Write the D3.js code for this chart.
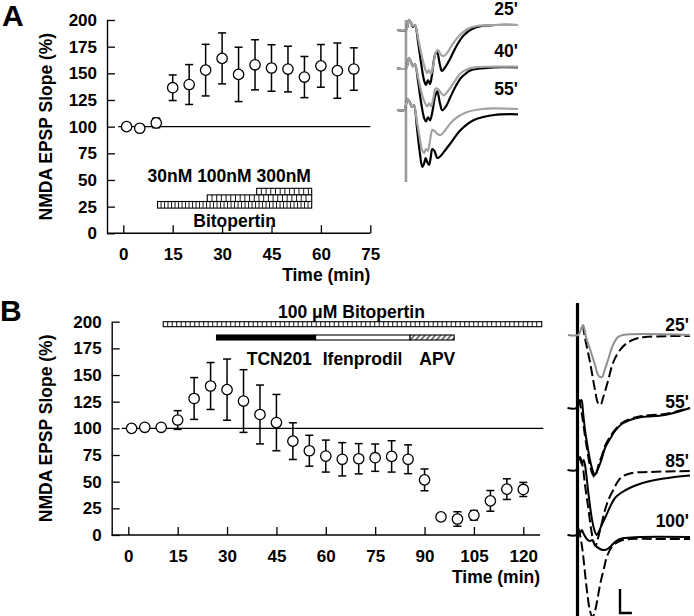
<!DOCTYPE html>
<html><head><meta charset="utf-8">
<script src="https://cdn.jsdelivr.net/npm/d3@7"></script>
<style>
body{margin:0;background:#fff}
text{font-family:"Liberation Sans",Arial,Helvetica,sans-serif;font-weight:bold;fill:#000}
</style></head>
<body><svg id="c" width="694" height="616" xmlns="http://www.w3.org/2000/svg"></svg>
<script>
// ---------------- data ----------------
const yTicks = [0,25,50,75,100,125,150,175,200];
const xTicksA = [0,15,30,45,60,75];
const xTicksB = [0,15,30,45,60,75,90,105,120];

const timeA = [1,5,10,15,20,25,30,35,40,45,50,55,60,65,70];
const meanA = [100,98.5,103.5,136.5,139.5,153,164,149,158,155,154,146.5,157,152.5,154];
const semA  = [0.5,0.5,4.5,12,18.7,24.2,23.9,25.5,23.5,21.8,21.4,19.3,20,25.9,19.9];

const timeB = [1,5,10,15,20,25,30,35,40,45,50,55,60,65,70,75,80,85,90,95,100,105,110,115,120];
const meanB = [100,101,101,107.8,128,139.7,136.3,125.6,113,105.4,88,79,74,71,71.5,72.5,73.7,71,51.7,17,15,18.5,32,43,42.7];
const semB  = [0,0,0,8.8,19.6,22,28.7,29.4,27.6,26.4,17.2,14.5,15,15.6,14.2,12.8,14.7,13.5,10.2,0,6.8,4.5,9.7,9.7,6.6];

const concLabels = ["30nM","100nM","300nM"];
const concStart = [10.4,25.5,40.5];
const concEnd   = [57.2,57.2,57.2];

const bitoB = {label:"100 \u03BCM Bitopertin", start:10.6, end:125.6};
const drugLabels = ["TCN201","Ifenprodil","APV"];
const drugStart = [26.8,56.9,85.6];
const drugEnd   = [56.9,85.6,99];

// example traces: [ms, mV]
const trA25Black = [[0,0],[7.4,0],[9.9,1.0],[11.6,0.7],[13.2,0.3],[14.9,0.5],[17.4,-1.2],[19.8,-3.2],[22.3,-5.0],[24,-5.5],[25.6,-5.0],[27.3,-5.4],[28.9,-4.5],[31.4,-2.5],[33.1,-2.2],[35.5,-3.5],[37.2,-4.1],[40.5,-3.6],[44.6,-2.7],[49.6,-1.5],[55.4,-0.5],[62,0.1],[70.2,0.4],[81,0.5],[100,0.5]];
const trA25Gray  = [[0,0],[7.4,0],[9.9,1.0],[11.6,0.7],[13.2,0.4],[14.9,0.5],[17.4,-0.8],[19.8,-2.2],[22.3,-3.5],[24.8,-4.3],[26.4,-4.0],[28.1,-4.4],[30,-3.5],[32.2,-2.2],[34,-2.0],[36.4,-2.5],[38.8,-2.6],[42,-2.2],[46,-1.4],[52,-0.5],[58,0.1],[66,0.4],[80,0.5],[100,0.5]];
const trA40Black = [[0,0],[7.4,0],[9.9,1.0],[11.6,0.6],[13.2,0.2],[14.9,0.4],[17.4,-1.3],[20,-3.5],[22.5,-5.0],[24,-5.3],[25.6,-4.9],[27.3,-5.2],[29,-4.5],[31.5,-2.8],[33.3,-2.3],[35.5,-3.5],[37.4,-4.2],[40.5,-3.8],[44.4,-2.8],[48.5,-1.8],[52.6,-1.0],[57,-0.5],[61,-0.2],[70,0],[80,0.1],[100,0.1]];
const trA40Gray  = [[0,0],[7.4,0],[9.9,1.0],[11.6,0.6],[13.2,0.2],[14.9,0.4],[17.4,-0.9],[20,-2.3],[22.5,-3.3],[25,-3.8],[26.6,-3.5],[28.2,-3.8],[30,-3.0],[32,-2.0],[34,-2.1],[36.5,-2.5],[38.8,-2.7],[42,-2.3],[46,-1.6],[52.6,-0.5],[58,-0.1],[64,0.1],[80,0.16],[100,0.17]];
const trA55Black = [[0,0],[6,0],[8.5,1.1],[10.5,0.8],[12.4,0.3],[14,0.5],[16.5,-1.8],[18.8,-4.2],[20.9,-5.7],[22.5,-5.3],[23.7,-4.8],[25,-5.2],[26.4,-5.5],[27.8,-4.8],[29.2,-3.9],[31,-4.1],[33.3,-4.8],[36,-4.6],[40,-4.0],[44.4,-3.3],[52.6,-2.0],[63.6,-1.0],[80.2,-0.5],[100,-0.43]];
const trA55Gray  = [[0,0],[6,0],[8.5,1.1],[10.5,0.8],[12.4,0.3],[14,0.5],[16.5,-1.2],[18.8,-2.8],[20.5,-3.9],[22.3,-4.3],[24,-3.9],[25.5,-4.1],[27,-3.3],[29.2,-2.0],[31,-2.1],[33.5,-2.4],[36.1,-2.5],[40,-2.0],[44.4,-1.3],[50,-0.7],[58.1,-0.2],[70,0.1],[80.2,0.17],[100,0.1]];

const trB25Solid  = [[2.4,0],[10.4,0],[12,0.3],[14.4,1.0],[15.5,0.6],[17,-0.3],[20,-1.4],[24,-3.0],[27,-4.1],[29.6,-4.2],[32,-3.4],[34.4,-2.5],[38.4,-1.0],[42.4,-0.2],[46.4,0],[100,0]];
const trB25Dashed = [[14.4,1.0],[16,-0.3],[20,-2.7],[24,-5.5],[26.4,-6.8],[28.4,-7.0],[30.4,-6.3],[34.4,-4.6],[38.4,-2.8],[44,-1.5],[49.6,-0.8],[56,-0.4],[64,-0.2],[100,-0.1]];
const trB55Solid  = [[2,0],[9,0],[10.4,0.9],[12,0.6],[13.2,0.8],[14.5,-0.5],[16,-2.2],[18,-3.8],[20,-5.2],[22,-6.2],[24,-6.7],[25.6,-6.3],[27,-5.9],[29.4,-5.1],[32,-4.0],[36,-3.1],[40,-2.3],[45.4,-1.6],[52,-1.2],[61.4,-0.9],[80,-0.7],[100,0]];
const trB55Dashed = [[10.4,0.9],[12,0.4],[14,-1.0],[16,-2.8],[18,-4.4],[20,-5.8],[22,-6.6],[23.6,-6.9],[25.2,-6.5],[27,-5.6],[29.4,-4.8],[32,-3.8],[36,-2.9],[40,-2.2],[45.4,-1.5],[52,-1.1],[61.4,-0.8],[80,-0.6],[100,0]];
const trB85Solid  = [[2,0],[9,0],[10.4,0.8],[12,1.3],[13.4,0.6],[14.8,1.0],[16,0.5],[18.6,-2.2],[21.4,-4.8],[23.5,-6.0],[25.4,-6.5],[27,-6.2],[29,-5.6],[32,-4.8],[36,-3.7],[40,-2.8],[46,-2.2],[53.4,-1.7],[62,-1.3],[72,-1.0],[85,-0.75],[100,-0.55]];
const trB85Dashed = [[12,1.3],[14,0.5],[16,-1.5],[18.6,-3.8],[21,-6.0],[23,-7.3],[24.5,-7.6],[26,-7.0],[28.5,-5.8],[32,-4.0],[35,-2.9],[38.6,-2.0],[42,-1.2],[45.4,-0.7],[53.4,-0.3],[66.7,-0.2],[100,-0.1]];
const trB100Solid = [[2,0],[9,0],[10.4,0.7],[12,0.2],[13.5,0.5],[15,0.1],[17.4,-0.4],[20,-0.6],[22,-0.5],[24,-1.0],[28,-1.4],[32,-1.5],[36,-1.2],[40,-0.7],[44,-0.4],[48,-0.3],[60,-0.2],[100,-0.2]];
const trB100Dashed= [[10.4,0.7],[12,0.0],[14,-1.5],[16,-3.8],[18,-6.0],[20,-7.6],[22,-8.2],[24,-7.6],[26,-6.4],[28,-5.0],[31,-3.4],[34,-2.0],[38,-1.1],[44,-0.6],[52,-0.4],[70,-0.4],[100,-0.4]];

const traceLabelsA = ["25'","40'","55'"];
const traceLabelsB = ["25'","55'","85'","100'"];

// ---------------- drawing ----------------
const svg = d3.select("#c");
const FS = 17;
const defs = svg.append("defs");
const hatch = defs.append("pattern").attr("id","hatch").attr("patternUnits","userSpaceOnUse")
  .attr("width",4).attr("height",10).attr("patternTransform","rotate(40)");
hatch.append("rect").attr("width",4).attr("height",10).attr("fill","#fff");
hatch.append("line").attr("x1",1).attr("x2",1).attr("y1",0).attr("y2",10).attr("stroke","#000").attr("stroke-width",1.1);

function panel(cfg){
  const g = svg.append("g");
  const x = d3.scaleLinear().domain(cfg.xDomain).range(cfg.xRange);
  const y = d3.scaleLinear().domain([0,200]).range(cfg.yRange);
  // y axis
  const ya = g.append("g").attr("transform",`translate(${cfg.axisX},0)`)
    .call(d3.axisLeft(y).tickValues(yTicks).tickSizeInner(-8).tickSizeOuter(0).tickPadding(10));
  ya.select(".domain").attr("stroke-width",1.4);
  ya.selectAll(".tick line").attr("stroke-width",1.3);
  ya.selectAll("text").attr("font-size",FS).attr("font-family",null);
  // x axis
  const xa = g.append("g").attr("transform",`translate(0,${cfg.yRange[0]})`)
    .call(d3.axisBottom(x).tickValues(cfg.xTicks).tickSizeInner(-8).tickSizeOuter(0).tickPadding(14.6));
  xa.select(".domain").remove();
  xa.selectAll(".tick line").attr("stroke-width",1.3);
  xa.selectAll("text").attr("font-size",FS).attr("font-family",null);
  g.append("line").attr("x1",cfg.axisX).attr("x2",x(cfg.xAxisEnd))
    .attr("y1",y(0)).attr("y2",y(0)).attr("stroke","#000").attr("stroke-width",1.4);
  // 100% line
  g.append("line").attr("x1",x(cfg.refStart)).attr("x2",x(cfg.refEnd))
    .attr("y1",y(100)).attr("y2",y(100)).attr("stroke","#000").attr("stroke-width",1.3);
  // axis labels
  g.append("text").attr("transform",`translate(${cfg.ylabX},${(y(0)+y(200))/2 + cfg.ylabDy}) rotate(-90)`)
    .attr("text-anchor","middle").attr("font-size",17.5).text("NMDA EPSP Slope (%)");
  g.append("text").attr("x",x(cfg.xAxisEnd)).attr("y",y(0)+48).attr("text-anchor","end")
    .attr("font-size",17.5).text("Time (min)");
  g.append("text").attr("x",cfg.letterX).attr("y",cfg.letterY).attr("font-size",30).text(cfg.letter);
  // data
  const pts = cfg.time.map((t,i)=>({t, m:cfg.mean[i], s:cfg.sem[i]}));
  const eb = g.append("g").selectAll("g").data(pts).join("g");
  eb.filter(d=>d.s>0).append("line").attr("x1",d=>x(d.t)).attr("x2",d=>x(d.t))
    .attr("y1",d=>y(d.m+d.s)).attr("y2",d=>y(d.m-d.s)).attr("stroke","#000").attr("stroke-width",1.5);
  eb.filter(d=>d.s>0).append("line").attr("x1",d=>x(d.t)-4).attr("x2",d=>x(d.t)+4)
    .attr("y1",d=>y(d.m+d.s)).attr("y2",d=>y(d.m+d.s)).attr("stroke","#000").attr("stroke-width",1.5);
  eb.filter(d=>d.s>0).append("line").attr("x1",d=>x(d.t)-4).attr("x2",d=>x(d.t)+4)
    .attr("y1",d=>y(d.m-d.s)).attr("y2",d=>y(d.m-d.s)).attr("stroke","#000").attr("stroke-width",1.5);
  g.append("g").selectAll("circle").data(pts).join("circle")
    .attr("cx",d=>x(d.t)).attr("cy",d=>y(d.m)).attr("r",5.2)
    .attr("fill","#fff").attr("stroke","#000").attr("stroke-width",1.3);
  return {g,x,y};
}

function ladder(g, x0, x1, y0, h, step){
  g.append("rect").attr("x",x0).attr("y",y0).attr("width",x1-x0).attr("height",h)
    .attr("fill","#fff").attr("stroke","#000").attr("stroke-width",1.1);
  g.selectAll(null).data(d3.range(x0+step, x1-1, step)).enter().append("line")
    .attr("x1",d=>d).attr("x2",d=>d).attr("y1",y0).attr("y2",y0+h)
    .attr("stroke","#000").attr("stroke-width",0.9);
}

// ---- Panel A ----
const A = panel({xDomain:[0,75], xRange:[123.3,370.3], yRange:[233.3,20], axisX:107,
  xTicks:xTicksA, xAxisEnd:75, refStart:-1.5, refEnd:75, ylabX:52, ylabDy:0,
  time:timeA, mean:meanA, sem:semA, letter:"A", letterX:2, letterY:26});
{
  const rowH = 6.6, bottomTop = 201.5;
  const steps = [3.5,4.7,4.7];
  for (let i=concStart.length-1;i>=0;i--){
    ladder(A.g, A.x(concStart[i]), A.x(concEnd[i]), bottomTop - i*rowH, rowH, steps[i]);
  }
  A.g.append("text").attr("x",A.x(concStart[0])-10).attr("y",181.5).attr("font-size",17.5)
    .text(concLabels.join(" "));
  A.g.append("text").attr("x",(A.x(concStart[0])+A.x(concEnd[0]))/2).attr("y",226.5)
    .attr("text-anchor","middle").attr("font-size",17.5).text("Bitopertin");
}

// ---- Panel B ----
const B = panel({xDomain:[0,120], xRange:[128.3,523.3], yRange:[535,321.7], axisX:111.7,
  xTicks:xTicksB, xAxisEnd:125.1, refStart:-2, refEnd:126.1, ylabX:52, ylabDy:0,
  time:timeB, mean:meanB, sem:semB, letter:"B", letterX:0, letterY:321});
{
  ladder(B.g, B.x(bitoB.start), B.x(bitoB.end), 321.7, 5, 4.5);
  B.g.append("text").attr("x",(B.x(bitoB.start)+B.x(bitoB.end))/2 - 1).attr("y",318.3)
    .attr("text-anchor","middle").attr("font-size",17.5).text(bitoB.label);
  const fills = ["#000","#fff","url(#hatch)"];
  drugLabels.forEach((lab,i)=>{
    B.g.append("rect").attr("x",B.x(drugStart[i])).attr("y",335).attr("width",B.x(drugEnd[i])-B.x(drugStart[i]))
      .attr("height",5).attr("fill",fills[i]).attr("stroke","#000").attr("stroke-width",1.1);
  });
  const labX = [246.7, 322.7, 419.3];
  drugLabels.forEach((lab,i)=>{
    B.g.append("text").attr("x",labX[i]).attr("y",365).attr("font-size",17.5).text(lab);
  });
}

// ---- example traces ----
const curve = d3.curveCatmullRom.alpha(0.5);
function drawTrace(g, xs, base, data, color, width, dash){
  const ys = d3.scaleLinear().domain([0,-1]).range([base, base+10]);
  g.append("path").datum(data).attr("fill","none").attr("stroke",color)
    .attr("stroke-width",width).attr("stroke-linejoin","round").attr("stroke-linecap","butt")
    .attr("stroke-dasharray",dash||null)
    .attr("d", d3.line().x(d=>xs(d[0])).y(d=>ys(d[1])).curve(curve));
}
// inset A
{
  const g = svg.append("g");
  const xs = d3.scaleLinear().domain([0,100]).range([397,518]);
  const bases = [30,68.3,110];
  const blacks = [trA25Black,trA40Black,trA55Black];
  const grays = [trA25Gray,trA40Gray,trA55Gray];
  g.append("line").attr("x1",xs(7.4)).attr("x2",xs(7.4)).attr("y1",20).attr("y2",182)
    .attr("stroke","#9a9a9a").attr("stroke-width",2.6);
  bases.forEach((b,i)=>{
    drawTrace(g, xs, b, blacks[i], "#000", 2.2);
    drawTrace(g, xs, b, grays[i], "#a3a3a3", 2.2);
  });
  const labY = [15,56.7,95];
  traceLabelsA.forEach((t,i)=> g.append("text").attr("x",518).attr("y",labY[i])
    .attr("text-anchor","end").attr("font-size",17.5).text(t));
}
// inset B
{
  const g = svg.append("g");
  const xs = d3.scaleLinear().domain([0,100]).range([565,690]);
  const bases = [335,408,470,535];
  const solids = [trB25Solid,trB55Solid,trB85Solid,trB100Solid];
  const dashed = [trB25Dashed,trB55Dashed,trB85Dashed,trB100Dashed];
  const solidColor = ["#8f8f8f","#000","#000","#000"];
  g.append("line").attr("x1",xs(10)).attr("x2",xs(10)).attr("y1",303).attr("y2",616)
    .attr("stroke","#000").attr("stroke-width",3.2);
  bases.forEach((b,i)=>{
    drawTrace(g, xs, b, dashed[i], "#000", 2, "10,4");
    drawTrace(g, xs, b, solids[i], solidColor[i], 2);
  });
  const labY = [331,408,467,527];
  traceLabelsB.forEach((t,i)=> g.append("text").attr("x",689).attr("y",labY[i])
    .attr("text-anchor","end").attr("font-size",17.5).text(t));
  // scale bar
  g.append("path").attr("d",`M${xs(44)},589 V613 H${xs(53.5)}`).attr("fill","none")
    .attr("stroke","#000").attr("stroke-width",2.4);
}
</script></body></html>
